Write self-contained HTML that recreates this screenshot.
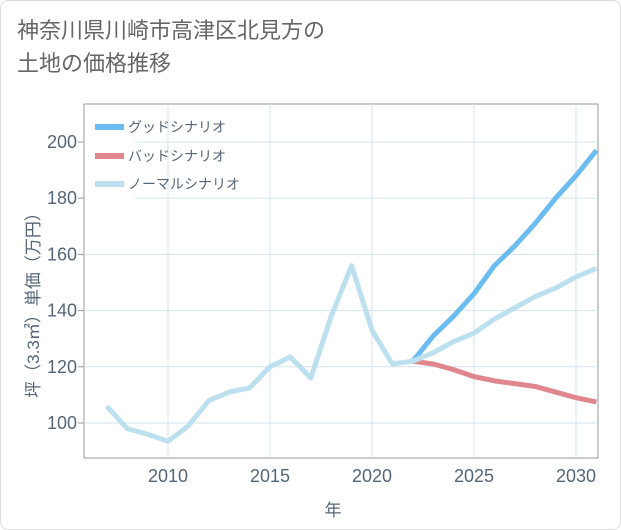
<!DOCTYPE html>
<html><head><meta charset="utf-8"><style>
body{margin:0;background:#fff;}
#wrap{position:relative;width:619px;height:528px;border:1px solid #ddd;border-radius:8px;overflow:hidden;background:#fff;font-family:"Liberation Sans","Noto Sans CJK JP",sans-serif;}
#title{position:absolute;left:16px;top:13px;font-size:22px;line-height:33px;color:#666;}
svg{position:absolute;left:0;top:0;}
</style></head><body>
<div id="wrap">
<div id="title">神奈川県川崎市高津区北見方の<br>土地の価格推移</div>
<svg id="chart" width="621" height="530"></svg>
</div>
<script>
const years=[2007,2008,2009,2010,2011,2012,2013,2014,2015,2016,2017,2018,2019,2020,2021,2022,2023,2024,2025,2026,2027,2028,2029,2030,2031];
const normalVals=[106,98,96,93.5,99,108,111,112.5,120,123.5,116,138,156,133,121,122,125,129,132,137,141,145,148,152,155];
const futYears=[2022,2023,2024,2025,2026,2027,2028,2029,2030,2031];
const goodVals=[122,131,138,146,156,163,171,180,188,197];
const badVals=[122,121,119,116.5,115,114,113,111,109,107.5];
const xTicks=[2010,2015,2020,2025,2030];
const yTicks=[100,120,140,160,180,200];
const L=83,R=597,T=103,B=457;
const x=v=>167+(v-2010)*(575-167)/20;
const y=v=>422-(v-100)*(422-141)/100;
const svg=document.getElementById('chart');
const NS='http://www.w3.org/2000/svg';
function mk(t,a,p){const e=document.createElementNS(NS,t);for(const k in a)e.setAttribute(k,a[k]);(p||svg).appendChild(e);return e;}
let e;
e=mk('rect',{x:L,y:T,width:R-L,height:B-T,fill:'#fff',stroke:'#999','stroke-width':1});


for(const t of xTicks){
 e=mk('line',{x1:x(t),x2:x(t),y1:T,y2:B,stroke:'#d5e3ee','stroke-width':1});
 
 
 e=mk('text',{x:x(t),y:481,'text-anchor':'middle','font-size':18,fill:'#556677'});e.textContent=t;
 
 
}
for(const t of yTicks){
 e=mk('line',{x1:L,x2:R,y1:y(t),y2:y(t),stroke:'#d5e3ee','stroke-width':1});
 
 
 e=mk('line',{x1:L-6,x2:L,y1:y(t),y2:y(t),stroke:'#999','stroke-width':1});
 
 
 e=mk('text',{x:L-7,y:y(t)+6,'text-anchor':'end','font-size':18,fill:'#556677'});e.textContent=t;
 
 
}
function line(xs,vs,c,n){
 e=mk('polyline',{points:xs.map((v,i)=>x(v)+','+y(vs[i])).join(' '),fill:'none',stroke:c,'stroke-width':5,'stroke-linejoin':'round','stroke-linecap':'butt'});
 
 
}
line(futYears,badVals,'#e0868d','bad-scenario-line');
line(futYears,goodVals,'#6bbcf0','good-scenario-line');
line(years,normalVals,'#bde0ee','normal-scenario-line');
e=mk('rect',{x:L+1,y:110,width:50,height:90,fill:'#fff'});


const leg=[['グッドシナリオ','#6bbcf0',126],['バッドシナリオ','#e0868d',155],['ノーマルシナリオ','#bde0ee',183]];
for(const [n,c,yy] of leg){
 const g=mk('g',{});
 
 
 mk('rect',{x:94,y:yy-3,width:29,height:6,fill:c},g);
 const t=mk('text',{x:127,y:yy+5,'font-size':14,fill:'#556677'},g);t.textContent=n;
}
e=mk('text',{x:332,y:515,'text-anchor':'middle','font-size':17,fill:'#556677'});e.textContent='年';


e=mk('text',{x:0,y:0,'text-anchor':'middle','font-size':17,fill:'#556677',transform:'translate(38,300) rotate(-90)'});e.textContent='坪（3.3㎡）単価（万円）';


</script>
</body></html>
